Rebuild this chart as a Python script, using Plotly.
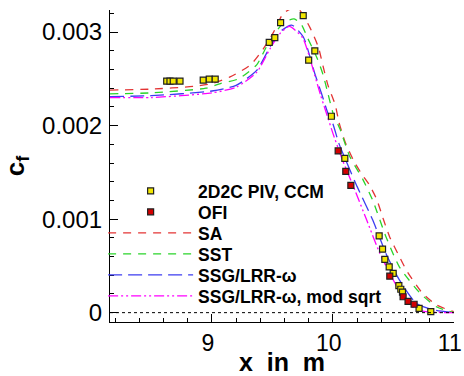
import plotly.graph_objects as go

# ---- data ----
piv_x = [8.626, 8.653, 8.680, 8.736, 8.928, 8.978, 9.027, 9.474, 9.52, 9.568, 9.755, 9.80, 9.851,
         9.988, 10.099, 10.383, 10.411, 10.43, 10.466, 10.499, 10.546, 10.562, 10.576, 10.713, 10.81]
piv_y = [0.002476, 0.002476, 0.002476, 0.002476, 0.002487, 0.002497, 0.002497, 0.00289, 0.00294, 0.0031,
         0.003175, 0.0027, 0.0028, 0.0021, 0.00165, 0.00082, 0.00068, 0.00057, 0.00049, 0.00042, 0.00029,
         0.00025, 0.00022, 0.000045, 0.00001]

ofi_x = [10.044, 10.107, 10.149, 10.471, 10.581, 10.622, 10.672]
ofi_y = [0.00173, 0.00151, 0.00136, 0.00039, 0.00017, 0.00012, 0.00009]

sa_x = [8.157, 8.5, 8.85, 9.0, 9.15, 9.32, 9.43, 9.51, 9.59, 9.66, 9.72, 9.81, 9.88, 9.92, 9.96,
        10.02, 10.05, 10.1, 10.17, 10.24, 10.3, 10.36, 10.42, 10.47, 10.55, 10.61, 10.74, 10.86, 11.0]
sa_y = [0.00238, 0.00239, 0.00242, 0.00245, 0.00252, 0.00265, 0.00283, 0.0030, 0.0032, 0.00325, 0.00324,
        0.00305, 0.00284, 0.00263, 0.00243, 0.00222, 0.00204, 0.00183, 0.00163, 0.00148, 0.00137, 0.00122,
        0.00099, 0.00081, 0.0006, 0.00045, 0.00021, 0.00008, 0.00001]

sst_x = [8.157, 8.5, 8.95, 9.07, 9.22, 9.37, 9.45, 9.54, 9.6, 9.68, 9.74, 9.79, 9.87, 9.92, 9.96,
         10.0, 10.06, 10.14, 10.25, 10.33, 10.44, 10.55, 10.72, 10.86, 11.0]
sst_y = [0.00234, 0.00235, 0.0024, 0.00245, 0.0025, 0.00265, 0.00284, 0.00302, 0.00311, 0.00314, 0.00308,
         0.00294, 0.00272, 0.00254, 0.00234, 0.00214, 0.00196, 0.00167, 0.00142, 0.0012, 0.00081, 0.00049,
         0.00021, 0.00006, 0.0]

ssg_x = [8.157, 8.5, 9.0, 9.2, 9.37, 9.48, 9.56, 9.66, 9.755, 9.81, 9.85, 9.907, 9.96, 10.0, 10.05,
         10.13, 10.2, 10.33, 10.44, 10.55, 10.69, 10.83, 11.0]
ssg_y = [0.00231, 0.00232, 0.00237, 0.00243, 0.00259, 0.00284, 0.0030, 0.003075, 0.00295, 0.00274,
         0.00256, 0.00234, 0.00213, 0.00202, 0.00181, 0.00156, 0.00135, 0.00099, 0.00063, 0.00035,
         0.0001, 0.00003, 0.0]

mod_x = [8.157, 8.5, 9.0, 9.2, 9.37, 9.48, 9.56, 9.64, 9.75, 9.81, 9.85, 9.9, 9.96, 10.0, 10.08,
         10.17, 10.28, 10.39, 10.53, 10.66, 10.77, 11.0]
mod_y = [0.0023, 0.0023, 0.00235, 0.00241, 0.00257, 0.00282, 0.00298, 0.00306, 0.00294, 0.00272,
         0.00254, 0.00232, 0.00208, 0.00192, 0.00163, 0.00135, 0.00099, 0.00063, 0.00028, 0.00006,
         0.00001, 0.0]

y_tickvals = [0, 0.001, 0.002, 0.003]
y_ticktext = ["0", "0.001", "0.002", "0.003"]
x_tickvals = [9, 10, 11]
x_ticktext = ["9", "10", "11"]

FONT = "Liberation Sans, Arial, sans-serif"

fig = go.Figure()

line_specs = [
    ("SA", sa_x, sa_y, "#e33434", "8px,7px", "legend3"),
    ("SST", sst_x, sst_y, "#2ad42a", "8px,7px", "legend4"),
    ("SSG/LRR-ω", ssg_x, ssg_y, "#3c3cf0", "14px,6px", "legend5"),
    ("SSG/LRR-ω, mod sqrt", mod_x, mod_y, "#ff00ff", "10px,3px,2px,3px,2px,3px", "legend6"),
]
for name, xs, ys, col, dash, lg in line_specs:
    fig.add_trace(go.Scatter(x=xs, y=ys, mode="lines", name=name, legend=lg,
                             line=dict(color=col, width=1.3, dash=dash, shape="spline", smoothing=0.6)))

fig.add_trace(go.Scatter(x=piv_x, y=piv_y, mode="markers", name="2D2C PIV, CCM", legend="legend",
                         marker=dict(symbol="square", size=6, color="#f2e600",
                                     line=dict(color="#202020", width=1.2))))
fig.add_trace(go.Scatter(x=ofi_x, y=ofi_y, mode="markers", name="OFI", legend="legend2",
                         marker=dict(symbol="square", size=6, color="#d40000",
                                     line=dict(color="#202020", width=1.2))))

fig.add_shape(type="line", xref="paper", x0=0, x1=1, yref="y", y0=0, y1=0,
              line=dict(color="black", width=1, dash="dot"))

# one legend box per row, rows 21 px apart (plot area is 312 px tall)
row_px = [191, 212, 233, 254, 275, 296]
legend_common = dict(x=-0.02, xanchor="left", yanchor="middle", bgcolor="rgba(0,0,0,0)",
                     font=dict(family=FONT, size=17.5, color="black", weight="bold"),
                     itemwidth=85, borderwidth=0)
legends = {}
for i, p in enumerate(row_px):
    key = "legend" if i == 0 else f"legend{i + 1}"
    legends[key] = dict(legend_common, y=(322 - p) / 312)

fig.update_layout(
    width=464, height=376,
    margin=dict(l=110, r=10, t=10, b=54, autoexpand=False),
    paper_bgcolor="white", plot_bgcolor="white",
    font=dict(family=FONT, color="black"),
    showlegend=True,
    **legends,
    xaxis=dict(range=[8.157, 11.002], showgrid=False, zeroline=False, showline=True,
               linecolor="black", linewidth=1.2, ticks="inside", ticklen=8, tickcolor="black",
               tickvals=x_tickvals, ticktext=x_ticktext, tickfont=dict(size=23), ticklabelstandoff=0,
               ticklabeloverflow="allow", ticklabelshift=-4,
               minor=dict(dtick=0.2, tick0=8.2, ticks="inside", ticklen=4, tickcolor="black"),
               title=dict(text="<b>x\u00a0\u00a0in\u00a0\u00a0m</b>", font=dict(size=25), standoff=2)),
    yaxis=dict(range=[-0.0001, 0.003236], showgrid=False, zeroline=False, showline=True,
               linecolor="black", linewidth=1.2, ticks="inside", ticklen=8, tickcolor="black",
               tickvals=y_tickvals, ticktext=y_ticktext, tickfont=dict(size=24), ticklabelstandoff=2,
               minor=dict(dtick=0.0002, tick0=0, ticks="inside", ticklen=4, tickcolor="black"),
               title=dict(text="<b>c<sub>f</sub></b>", font=dict(size=26), standoff=26)),
)

fig.write_html("out.html", config={"displayModeBar": False},
               post_script="document.body.style.margin='0';document.body.style.overflow='hidden';")
